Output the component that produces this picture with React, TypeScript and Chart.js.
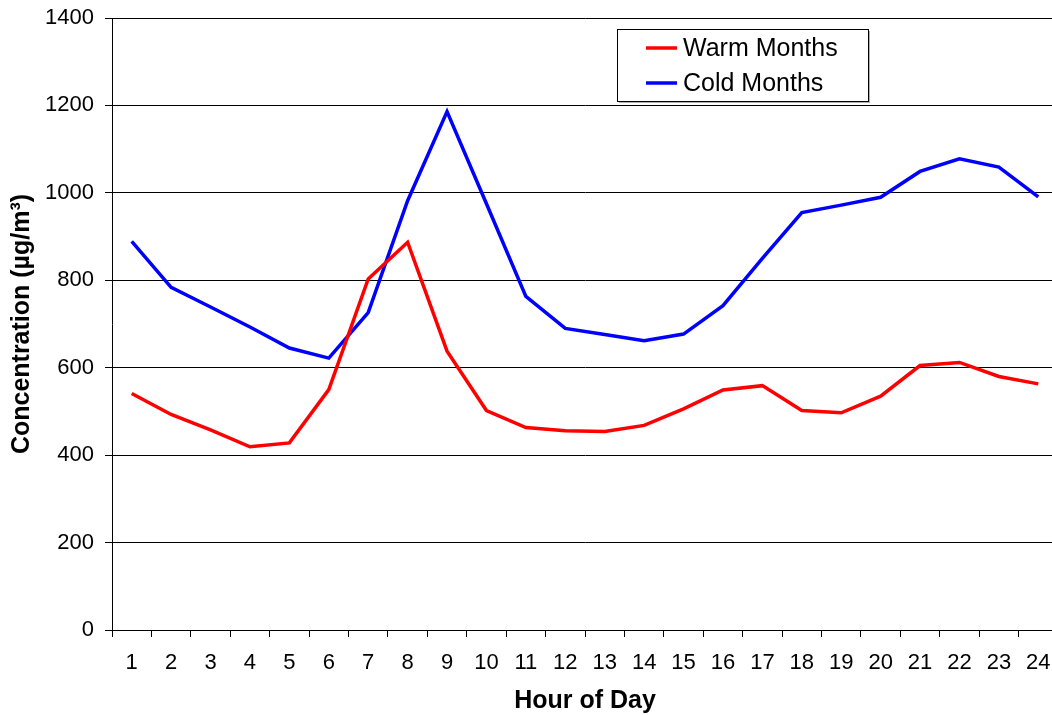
import React, { useEffect, useRef } from "react";
import { Chart, registerables } from "chart.js";

Chart.register(...registerables);

// Hour of day (1–24)
const hours = [
  "1", "2", "3", "4", "5", "6", "7", "8", "9", "10", "11", "12",
  "13", "14", "15", "16", "17", "18", "19", "20", "21", "22", "23", "24",
];

// Mean concentration by hour, µg/m³
const warmMonths = [
  541, 493, 458, 419, 428, 550, 803, 887, 638, 502, 463, 456,
  454, 468, 506, 549, 559, 502, 497, 535, 605, 612, 580, 563,
];
const coldMonths = [
  889, 784, 739, 693, 645, 622, 726, 982, 1186, 975, 763, 690,
  676, 662, 677, 742, 850, 955, 972, 990, 1049, 1078, 1059, 991,
];

const seriesLabels = ["Warm Months", "Cold Months"];
const seriesColors = ["#ff0000", "#0000ff"];

const FONT = "'Liberation Sans', Arial, Helvetica, sans-serif";

// Boxed legend drawn inside the plot area, upper right
const insetLegend = {
  id: "insetLegend",
  afterDraw(chart: any) {
    const { ctx, chartArea } = chart;
    const x = chartArea.left + 505;
    const y = chartArea.top + 11;
    const w = 251;
    const h = 72;
    ctx.save();
    // soft drop shadow
    ctx.fillStyle = "#b0b0b0";
    ctx.fillRect(x + 2, y + 2, w, h);
    ctx.fillStyle = "#ffffff";
    ctx.fillRect(x, y, w, h);
    ctx.strokeStyle = "#000000";
    ctx.lineWidth = 1;
    ctx.strokeRect(x + 0.5, y + 0.5, w, h);

    ctx.font = `25px ${FONT}`;
    ctx.textBaseline = "middle";
    ctx.textAlign = "left";
    chart.data.datasets.forEach((ds: any, i: number) => {
      const rowY = y + 19 + i * 35;
      ctx.strokeStyle = ds.borderColor;
      ctx.lineWidth = 3.5;
      ctx.beginPath();
      ctx.moveTo(x + 29, rowY);
      ctx.lineTo(x + 60, rowY);
      ctx.stroke();
      ctx.fillStyle = "#000000";
      ctx.fillText(ds.label, x + 66, rowY + 1);
    });
    ctx.restore();
  },
};

export default function App() {
  const canvasRef = useRef<HTMLCanvasElement | null>(null);

  useEffect(() => {
    const canvas = canvasRef.current;
    if (!canvas) return;
    const chart = new Chart(canvas, {
      type: "line",
      data: {
        labels: hours,
        datasets: [
          {
            label: seriesLabels[0],
            data: warmMonths,
            borderColor: seriesColors[0],
            backgroundColor: seriesColors[0],
            borderWidth: 3.5,
            pointRadius: 0,
            tension: 0,
            fill: false,
          },
          {
            label: seriesLabels[1],
            data: coldMonths,
            borderColor: seriesColors[1],
            backgroundColor: seriesColors[1],
            borderWidth: 3.5,
            pointRadius: 0,
            tension: 0,
            fill: false,
          },
        ],
      },
      options: {
        responsive: false,
        animation: false,
        devicePixelRatio: 1,
        layout: { padding: { top: 18, left: 0, right: 0, bottom: 0 } },
        plugins: {
          legend: { display: false },
          tooltip: { enabled: false },
        },
        scales: {
          x: {
            type: "category",
            offset: true,
            grid: {
              offset: true,
              drawOnChartArea: false,
              drawTicks: true,
              tickLength: 7,
              color: "#000000",
              lineWidth: 1,
            },
            border: { display: true, color: "#000000", width: 1 },
            ticks: {
              color: "#000000",
              font: { family: FONT, size: 22 },
              padding: 13,
              maxRotation: 0,
              autoSkip: false,
            },
            title: {
              display: true,
              text: "Hour of Day",
              color: "#000000",
              font: { family: FONT, size: 25, weight: "bold" },
              padding: { top: 0, bottom: -1 },
            },
            afterFit(scale: any) {
              scale.height = 85;
              scale.paddingLeft = 0;
              scale.paddingRight = 0;
            },
          },
          y: {
            min: 0,
            max: 1400,
            ticks: {
              stepSize: 200,
              color: "#000000",
              font: { family: FONT, size: 22 },
              padding: 11,
              callback: (value: any) => String(value),
            },
            grid: {
              color: "#000000",
              lineWidth: 1,
              drawTicks: true,
              tickLength: 7,
            },
            border: { display: true, color: "#000000", width: 1 },
            title: {
              display: true,
              text: "Concentration (µg/m³)",
              color: "#000000",
              font: { family: FONT, size: 25, weight: "bold" },
              padding: { top: 7, bottom: 0 },
            },
            afterFit(scale: any) {
              scale.width = 112;
              scale.paddingTop = 0;
              scale.paddingBottom = 0;
            },
          },
        },
      },
      plugins: [insetLegend],
    });
    return () => chart.destroy();
  }, []);

  return (
    <div
      style={{
        position: "fixed",
        left: 0,
        top: 0,
        width: 1052,
        height: 715,
        overflow: "hidden",
        background: "#ffffff",
      }}
    >
      <canvas
        ref={canvasRef}
        width={1058}
        height={715}
        style={{ display: "block", width: 1058, height: 715 }}
      />
    </div>
  );
}
